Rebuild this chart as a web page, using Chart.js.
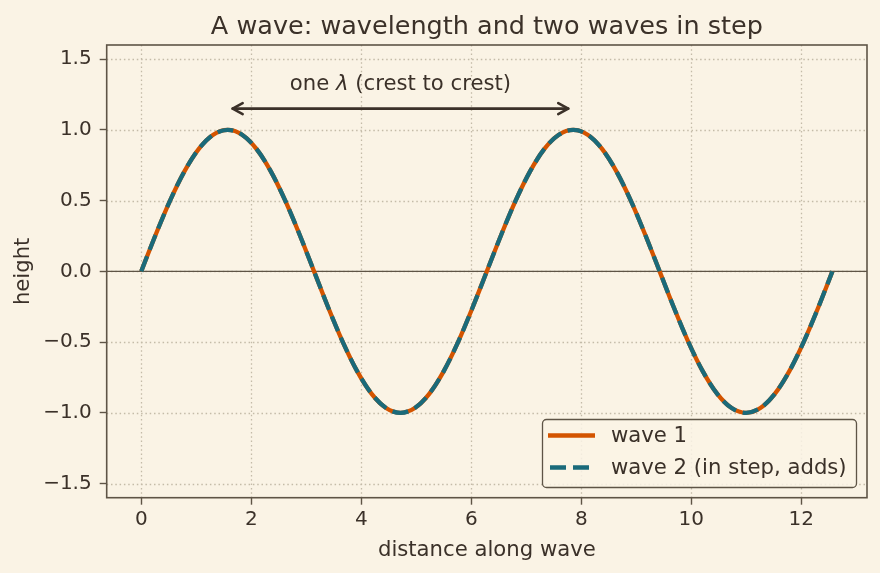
<!DOCTYPE html>
<html>
<head>
<meta charset="utf-8">
<script src="https://cdn.jsdelivr.net/npm/chart.js@4.4.1/dist/chart.umd.min.js"></script>
<style>
  html, body { margin: 0; padding: 0; background: #faf3e5; }
  canvas { display: block; }
</style>
</head>
<body>
<canvas id="waveChart" width="880" height="573"></canvas>
<script>
// values (distance, height)
const distance = [0, 0.262, 0.524, 0.785, 1.047, 1.309, 1.571, 1.833, 2.094, 2.356, 2.618, 2.880,
  3.142, 3.403, 3.665, 3.927, 4.189, 4.451, 4.712, 4.974, 5.236, 5.498, 5.760, 6.021,
  6.283, 6.545, 6.807, 7.069, 7.330, 7.592, 7.854, 8.116, 8.378, 8.639, 8.901, 9.163,
  9.425, 9.687, 9.948, 10.210, 10.472, 10.734, 10.996, 11.257, 11.519, 11.781, 12.043, 12.305, 12.566];
const wave1 = [0, 0.259, 0.5, 0.707, 0.866, 0.966, 1, 0.966, 0.866, 0.707, 0.5, 0.259,
  0, -0.259, -0.5, -0.707, -0.866, -0.966, -1, -0.966, -0.866, -0.707, -0.5, -0.259,
  0, 0.259, 0.5, 0.707, 0.866, 0.966, 1, 0.966, 0.866, 0.707, 0.5, 0.259,
  0, -0.259, -0.5, -0.707, -0.866, -0.966, -1, -0.966, -0.866, -0.707, -0.5, -0.259, 0];
const wave2 = wave1.slice(); // in step, same heights

const xTicks = [0, 2, 4, 6, 8, 10, 12];
const yTicks = [-1.5, -1.0, -0.5, 0.0, 0.5, 1.0, 1.5];
const seriesNames = ['wave 1', 'wave 2 (in step, adds)'];

const titleText = 'A wave: wavelength and two waves in step';
const xLabel = 'distance along wave';
const yLabel = 'height';

const BG = '#faf3e5';
const INK = '#3b3129';
const FRAME = '#5e5446';
const GRID = '#c4bba8';
const ORANGE = '#d35400';
const TEAL = '#1a6a7a';
const FONT = '"DejaVu Sans", sans-serif';
const LW = 4.3;
const DASH = [16, 7];

function pts(ys) {
    return distance.map((x, i) => ({x: x, y: ys[i]}));
}

const extras = {
    id: 'extras',
    beforeDraw(chart) {
        const ctx = chart.ctx;
        ctx.save();
        ctx.fillStyle = BG;
        ctx.fillRect(0, 0, chart.width, chart.height);
        ctx.restore();
    },
    beforeDatasetsDraw(chart) {
        const ctx = chart.ctx;
        const a = chart.chartArea;
        const sx = chart.scales.x, sy = chart.scales.y;
        ctx.save();
        ctx.strokeStyle = GRID;
        ctx.lineWidth = 1.3;
        ctx.setLineDash([1.5, 2.8]);
        xTicks.forEach(v => {
            const px = Math.round(sx.getPixelForValue(v)) + 0.5;
            ctx.beginPath(); ctx.moveTo(px, a.top); ctx.lineTo(px, a.bottom); ctx.stroke();
        });
        yTicks.forEach(v => {
            const py = Math.round(sy.getPixelForValue(v)) + 0.5;
            ctx.beginPath(); ctx.moveTo(a.left, py); ctx.lineTo(a.right, py); ctx.stroke();
        });
        // zero line
        ctx.setLineDash([]);
        ctx.strokeStyle = FRAME;
        ctx.lineWidth = 1.4;
        const y0 = sy.getPixelForValue(0);
        ctx.beginPath(); ctx.moveTo(a.left, y0); ctx.lineTo(a.right, y0); ctx.stroke();
        ctx.restore();
    },
    afterDatasetsDraw(chart) {
        const ctx = chart.ctx;
        const a = chart.chartArea;
        const sx = chart.scales.x, sy = chart.scales.y;
        ctx.save();
        // frame
        ctx.strokeStyle = FRAME;
        ctx.lineWidth = 1.6;
        ctx.strokeRect(a.left, a.top, a.right - a.left, a.bottom - a.top);

        // wavelength arrow
        const ay = sy.getPixelForValue(1.15);
        const x1 = sx.getPixelForValue(1.571) + 5;
        const x2 = sx.getPixelForValue(7.854) - 5;
        ctx.strokeStyle = INK;
        ctx.lineWidth = 2.6;
        ctx.lineCap = 'round';
        ctx.lineJoin = 'round';
        ctx.beginPath(); ctx.moveTo(x1, ay); ctx.lineTo(x2, ay); ctx.stroke();
        ctx.beginPath();
        ctx.moveTo(x1 + 10, ay - 5.5); ctx.lineTo(x1, ay); ctx.lineTo(x1 + 10, ay + 5.5);
        ctx.moveTo(x2 - 10, ay - 5.5); ctx.lineTo(x2, ay); ctx.lineTo(x2 - 10, ay + 5.5);
        ctx.stroke();

        // arrow label
        const ly = sy.getPixelForValue(1.32);
        const lx = sx.getPixelForValue(4.712);
        const p1 = 'one ', p2 = '\u03bb', p3 = ' (crest to crest)';
        const f1 = '21.2px ' + FONT, f2 = 'italic 21.2px ' + FONT;
        ctx.font = f1; const w1 = ctx.measureText(p1).width, w3 = ctx.measureText(p3).width;
        ctx.font = f2; const w2 = ctx.measureText(p2).width;
        let tx = lx - (w1 + w2 + w3) / 2;
        ctx.fillStyle = INK;
        ctx.textBaseline = 'middle';
        ctx.textAlign = 'left';
        ctx.font = f1; ctx.fillText(p1, tx, ly); tx += w1;
        ctx.font = f2; ctx.fillText(p2, tx, ly); tx += w2;
        ctx.font = f1; ctx.fillText(p3, tx, ly);

        // legend
        const bx = 542, by = 419, bw = 314, bh = 68;
        ctx.fillStyle = 'rgba(250,243,229,0.85)';
        ctx.strokeStyle = FRAME;
        ctx.lineWidth = 1.3;
        ctx.beginPath();
        ctx.roundRect(bx + 0.5, by + 0.5, bw, bh, 4);
        ctx.fill(); ctx.stroke();
        ctx.lineCap = 'butt';
        ctx.lineWidth = LW;
        ctx.strokeStyle = ORANGE;
        ctx.beginPath(); ctx.moveTo(548, 435.5); ctx.lineTo(595, 435.5); ctx.stroke();
        ctx.strokeStyle = TEAL;
        ctx.setLineDash(DASH);
        ctx.beginPath(); ctx.moveTo(550, 467.5); ctx.lineTo(589, 467.5); ctx.stroke();
        ctx.setLineDash([]);
        ctx.fillStyle = INK;
        ctx.font = '21.2px ' + FONT;
        ctx.textBaseline = 'middle';
        ctx.fillText(seriesNames[0], 611, 436);
        ctx.fillText(seriesNames[1], 611, 468);
        ctx.restore();
    },
    afterDraw(chart) {
        const ctx = chart.ctx;
        const a = chart.chartArea;
        const cx = (a.left + a.right) / 2;
        const cy = (a.top + a.bottom) / 2;
        ctx.save();
        ctx.fillStyle = INK;
        ctx.textAlign = 'center';
        ctx.textBaseline = 'alphabetic';
        ctx.font = '25.5px ' + FONT;
        ctx.fillText(titleText, cx, 34);
        ctx.font = '21.2px ' + FONT;
        ctx.fillText(xLabel, cx, 556);
        ctx.translate(28.5, cy);
        ctx.rotate(-Math.PI / 2);
        ctx.fillText(yLabel, 0, 0);
        ctx.restore();
    }
};

function fmtY(v) {
    const s = Math.abs(v).toFixed(1);
    return v < 0 ? '\u2212' + s : s;
}

const config = {
    type: 'line',
    data: {
        datasets: [{
            label: seriesNames[1],
            data: pts(wave2),
            borderColor: TEAL,
            borderWidth: LW,
            borderDash: DASH,
            borderCapStyle: 'butt',
            pointRadius: 0,
            cubicInterpolationMode: 'monotone',
            order: 0
        }, {
            label: seriesNames[0],
            data: pts(wave1),
            borderColor: ORANGE,
            borderWidth: LW,
            pointRadius: 0,
            cubicInterpolationMode: 'monotone',
            order: 1
        }]
    },
    options: {
        responsive: false,
        animation: false,
        devicePixelRatio: 1,
        layout: { padding: { top: 45, right: 13, left: 0, bottom: 0 } },
        plugins: {
            legend: { display: false },
            tooltip: { enabled: false },
            title: { display: false }
        },
        scales: {
            x: {
                type: 'linear',
                min: -0.628,
                max: 13.195,
                afterBuildTicks: s => { s.ticks = xTicks.map(v => ({value: v})); },
                afterFit: s => { s.height = 75.3; },
                ticks: {
                    color: INK,
                    font: { family: FONT, size: 20 },
                    padding: 3,
                    maxRotation: 0,
                    callback: v => String(v)
                },
                grid: { drawOnChartArea: false, drawTicks: true, tickLength: 7, tickColor: FRAME, tickWidth: 1.4 },
                border: { display: false }
            },
            y: {
                type: 'linear',
                min: -1.6,
                max: 1.6,
                afterBuildTicks: s => { s.ticks = yTicks.map(v => ({value: v})); },
                afterFit: s => { s.width = 106.7; },
                ticks: {
                    color: INK,
                    font: { family: FONT, size: 20 },
                    padding: 8,
                    callback: v => fmtY(v)
                },
                grid: { drawOnChartArea: false, drawTicks: true, tickLength: 7, tickColor: FRAME, tickWidth: 1.4 },
                border: { display: false }
            }
        }
    },
    plugins: [extras]
};

const waveChart = new Chart(document.getElementById('waveChart'), config);
</script>
</body>
</html>
